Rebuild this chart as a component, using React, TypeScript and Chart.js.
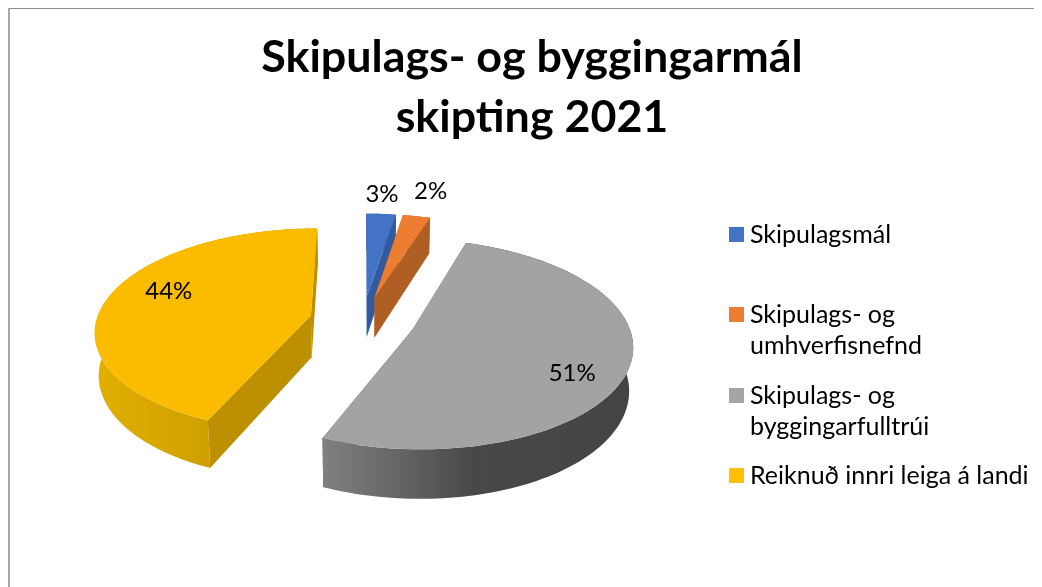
import React, { useEffect, useRef } from "react";
import { Chart, registerables } from "chart.js";

Chart.register(...registerables);

// Data
const categories = [
  ["Skipulagsmál"],
  ["Skipulags- og", "umhverfisnefnd"],
  ["Skipulags- og", "byggingarfulltrúi"],
  ["Reiknuð innri leiga á landi"],
];
const shares = [2.6, 2.4, 51.4, 43.6];
const titleLines = ["Skipulags- og byggingarmál", "skipting 2021"];

// Style
const FONT = "Lato, Carlito, sans-serif";
const faceColors = ["#4472C4", "#ED7D31", "#A3A3A3", "#FBBC00"];
const legendColors = ["#4472C4", "#ED7D31", "#A5A5A5", "#FFC000"];
const edgeColors = ["#335A9F", "#B05F24", "#4A4A4A", "#BC9000"];
const rimStops: [number, string][][] = [
  [[0, "#335A9F"], [1, "#335A9F"]],
  [[0, "#B05F24"], [1, "#B05F24"]],
  [[0, "#808080"], [0.5, "#484848"], [1, "#444444"]],
  [[0, "#E2AF00"], [1, "#BC9000"]],
];
const labelFraction = [1.317, 1.392, 0.737, 0.704];
const labelNudge = [[-3, 3], [0, 2], [2, 16], [1, -11]];
const legendSwatchTop = [219, 299, 380, 460];

// Projection of the flat pie into the tilted view (canvas coordinates)
const ORIGIN_X = 354.5;
const ORIGIN_Y = 312.5;
const PERSPECTIVE = 0.00065;
const TILT = 0.469;
const DEPTH = 42;
const project = (u: number, v: number, z = 0) => {
  const w = 1 - PERSPECTIVE * v;
  const shrink = z ? 0.985 : 1;
  return { x: ORIGIN_X + (u / w) * shrink, y: ORIGIN_Y + (TILT * v + z * DEPTH) / w };
};

const tiltedPie = {
  id: "tiltedPie",
  beforeDatasetDraw(chart: any) {
    const ctx = chart.ctx;
    chart.getDatasetMeta(0).data.forEach((arc: any, i: number) => {
      const { startAngle, endAngle, outerRadius } = arc.getProps(["startAngle", "endAngle", "outerRadius"]);
      const mid = (startAngle + endAngle) / 2;
      const off = arc.options.offset;
      const cu = Math.cos(mid) * off;
      const cv = Math.sin(mid) * off;
      const steps = Math.max(4, Math.ceil(((endAngle - startAngle) / (Math.PI * 2)) * 240));
      const pts = (z: number) => {
        const out = [];
        for (let s = 0; s <= steps; s++) {
          const a = startAngle + ((endAngle - startAngle) * s) / steps;
          out.push(project(cu + Math.cos(a) * outerRadius, cv + Math.sin(a) * outerRadius, z));
        }
        return out;
      };
      const top = pts(0);
      const low = pts(1);
      const apex = project(cu, cv, 0);
      const apexLow = project(cu, cv, 1);
      const poly = (list: { x: number; y: number }[], fill: any) => {
        ctx.beginPath();
        list.forEach((p, n) => (n ? ctx.lineTo(p.x, p.y) : ctx.moveTo(p.x, p.y)));
        ctx.closePath();
        ctx.fillStyle = fill;
        ctx.fill();
      };
      ctx.save();
      // radial walls
      poly([apex, top[0], low[0], apexLow], edgeColors[i]);
      poly([apex, top[steps], low[steps], apexLow], edgeColors[i]);
      // curved wall
      const xs = low.map((p) => p.x);
      const grad = ctx.createLinearGradient(Math.min(...xs), 0, Math.max(...xs), 0);
      rimStops[i].forEach(([o, c]) => grad.addColorStop(o, c));
      poly([...top, ...low.slice().reverse()], grad);
      // upper face
      poly([apex, ...top], arc.options.backgroundColor);
      ctx.restore();
    });
    return false;
  },
  afterDraw(chart: any) {
    const ctx = chart.ctx;
    const total = shares.reduce((a, b) => a + b, 0);
    ctx.save();
    ctx.fillStyle = "#000000";
    ctx.textBaseline = "middle";
    ctx.textAlign = "center";
    ctx.font = `24px ${FONT}`;
    chart.getDatasetMeta(0).data.forEach((arc: any, i: number) => {
      const { startAngle, endAngle, outerRadius } = arc.getProps(["startAngle", "endAngle", "outerRadius"]);
      const mid = (startAngle + endAngle) / 2;
      const r = arc.options.offset + labelFraction[i] * outerRadius;
      const p = project(Math.cos(mid) * r, Math.sin(mid) * r);
      ctx.fillText(`${Math.round((shares[i] / total) * 100)}%`, p.x + labelNudge[i][0], p.y + labelNudge[i][1]);
    });
    // legend
    ctx.textAlign = "left";
    ctx.font = `25px ${FONT}`;
    categories.forEach((lines, i) => {
      ctx.fillStyle = legendColors[i];
      ctx.fillRect(721, legendSwatchTop[i], 15, 15);
      ctx.fillStyle = "#000000";
      lines.forEach((line, n) => ctx.fillText(line, 742, legendSwatchTop[i] + 8 + n * 30.5));
    });
    ctx.restore();
  },
  beforeDraw(chart: any) {
    const ctx = chart.ctx;
    ctx.save();
    ctx.fillStyle = "#8C8C8C";
    ctx.fillRect(0, 0, chart.width, 1);
    ctx.fillStyle = "#A8A8A8";
    ctx.fillRect(0, 0, 2, chart.height);
    ctx.restore();
  },
};

export default function App() {
  const ref = useRef<HTMLCanvasElement>(null);
  useEffect(() => {
    document.body.style.overflow = "hidden";
    const chart = new Chart(ref.current as HTMLCanvasElement, {
      type: "pie",
      data: {
        labels: categories as any,
        datasets: [
          {
            data: shares,
            backgroundColor: faceColors,
            borderWidth: 0,
            offset: 53,
            radius: 214.5,
          } as any,
        ],
      },
      options: {
        responsive: false,
        animation: false,
        layout: { padding: { left: 14 } },
        plugins: {
          legend: { display: false },
          tooltip: { enabled: false },
          title: {
            display: true,
            text: titleLines,
            color: "#000000",
            font: { family: FONT, size: 44.8, weight: "bold", lineHeight: 1.34 },
            padding: { top: 20, bottom: 0 },
          },
        },
      },
      plugins: [tiltedPie],
    } as any);
    return () => chart.destroy();
  }, []);
  return (
    <canvas ref={ref} width={1034} height={579} style={{ display: "block", width: 1034, height: 579, background: "#FFFFFF" }} />
  );
}
